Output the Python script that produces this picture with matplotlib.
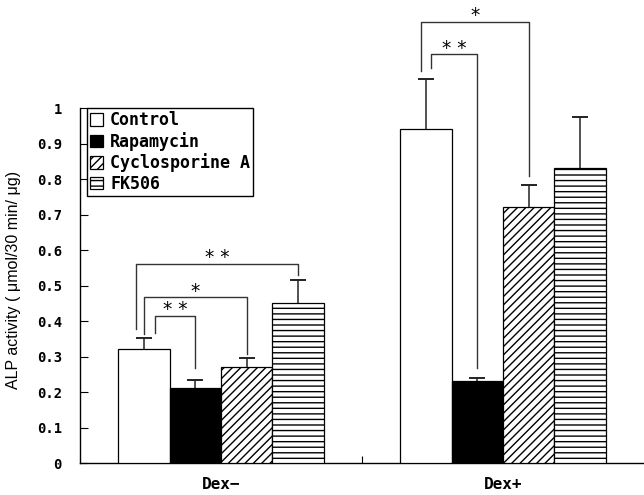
import numpy as np
import matplotlib.pyplot as plt
from matplotlib.patches import Patch

# ALP activity with and without dexamethasone
groups = ['Dex\u2212', 'Dex+']
treatments = ['Control', 'Rapamycin', 'Cyclosporine A', 'FK506']
means_dex_minus = [0.32, 0.21, 0.27, 0.45]
means_dex_plus = [0.94, 0.23, 0.72, 0.83]
sd_dex_minus = [0.032, 0.025, 0.025, 0.065]
sd_dex_plus = [0.143, 0.010, 0.064, 0.144]

# significance brackets: (group, bar a, bar b, bracket height, leg end a, leg end b, label)
brackets = [
    (0, 0, 3, 0.562, 0.377, 0.530, '* *'),
    (0, 0, 2, 0.467, 0.363, 0.306, '*'),
    (0, 0, 1, 0.414, 0.366, 0.268, '* *'),
    (1, 0, 2, 1.242, 1.105, 0.809, '*'),
    (1, 0, 1, 1.151, 1.113, 0.267, '* *'),
]
# small sideways shift of the left leg so nested brackets don't overlap
left_shift = [-0.030, 0.0, 0.040, -0.017, 0.016]

fills = ['white', 'black', 'white', 'white']
hatches = [None, None, '////', '---']

plt.rcParams['hatch.linewidth'] = 1.0
mono = 'DejaVu Sans Mono'

fig = plt.figure(figsize=(6.44, 4.95), dpi=100)
ax = fig.add_axes([0.1242, 0.0646, 0.8758, 0.7172])

means = np.array([means_dex_minus, means_dex_plus])
sds = np.array([sd_dex_minus, sd_dex_plus])
x = np.arange(len(groups))
w = 0.182
offsets = (np.arange(len(treatments)) - 1.5) * w

for i, name in enumerate(treatments):
    xs = x + offsets[i]
    ax.bar(xs, means[:, i], width=w, color=fills[i], edgecolor='black',
           linewidth=0.9, hatch=hatches[i], zorder=3, label=name)
    eb = ax.errorbar(xs, means[:, i], yerr=[np.zeros(2), sds[:, i]], fmt='none',
                     ecolor='#222222', elinewidth=1.1, capsize=5.8, capthick=1.4,
                     zorder=2)
    # keep only the upper cap
    eb[1][0].remove()
    for art in list(eb[1]) + list(eb[2]):
        art.set_clip_on(False)

for k, (g, a, b, top, ya, yb, lab) in enumerate(brackets):
    xa = x[g] + offsets[a] + left_shift[k]
    xb = x[g] + offsets[b]
    ax.plot([xa, xa, xb, xb], [ya, top, top, yb], color='#333333',
            linewidth=1.0, clip_on=False, zorder=4)
    ax.annotate(lab, xy=((xa + xb) / 2, top), xytext=(0, 0.5),
                textcoords='offset points', ha='center', va='baseline',
                fontsize=13.5, annotation_clip=False)

ax.set_xlim(-0.5, 1.5)
ax.set_ylim(0, 1)
ax.set_yticks(np.arange(0, 1.01, 0.1))
ax.set_yticklabels(['0'] + ['%.1f' % v for v in np.arange(0.1, 0.95, 0.1)] + ['1'],
                   family=mono, fontweight='bold', fontsize=10)
ax.set_xticks(x)
ax.set_xticklabels(groups, family=mono, fontweight='bold', fontsize=11.5)
ax.set_xticks([0.5], minor=True)
ax.tick_params(axis='x', which='major', length=0, pad=10)
ax.tick_params(axis='x', which='minor', direction='in', length=5, width=0.8)
ax.tick_params(axis='y', direction='in', length=6, width=0.8, pad=13)

for s in ['top', 'right']:
    ax.spines[s].set_visible(False)
for s in ['left', 'bottom']:
    ax.spines[s].set_linewidth(1.0)

ax.set_ylabel('ALP activity ( \u03bcmol/30 min/ \u03bcg)', family='Liberation Sans',
              fontsize=11.5)
ax.yaxis.set_label_coords(-0.105, 0.515)

handles = [Patch(facecolor=fills[i], edgecolor='black', hatch=hatches[i], linewidth=0.9)
           for i in range(len(treatments))]
leg = ax.legend(handles, treatments, loc='upper left', bbox_to_anchor=(0.012, 1.0),
                borderaxespad=0, fancybox=False, framealpha=1, edgecolor='black',
                handlelength=0.8, handleheight=0.8, handletextpad=0.4,
                labelspacing=0.15, borderpad=0.2,
                prop={'family': mono, 'weight': 'bold', 'size': 12})
leg.get_frame().set_linewidth(1.0)
leg.set_zorder(5)

fig.savefig('out.png', dpi=100)
